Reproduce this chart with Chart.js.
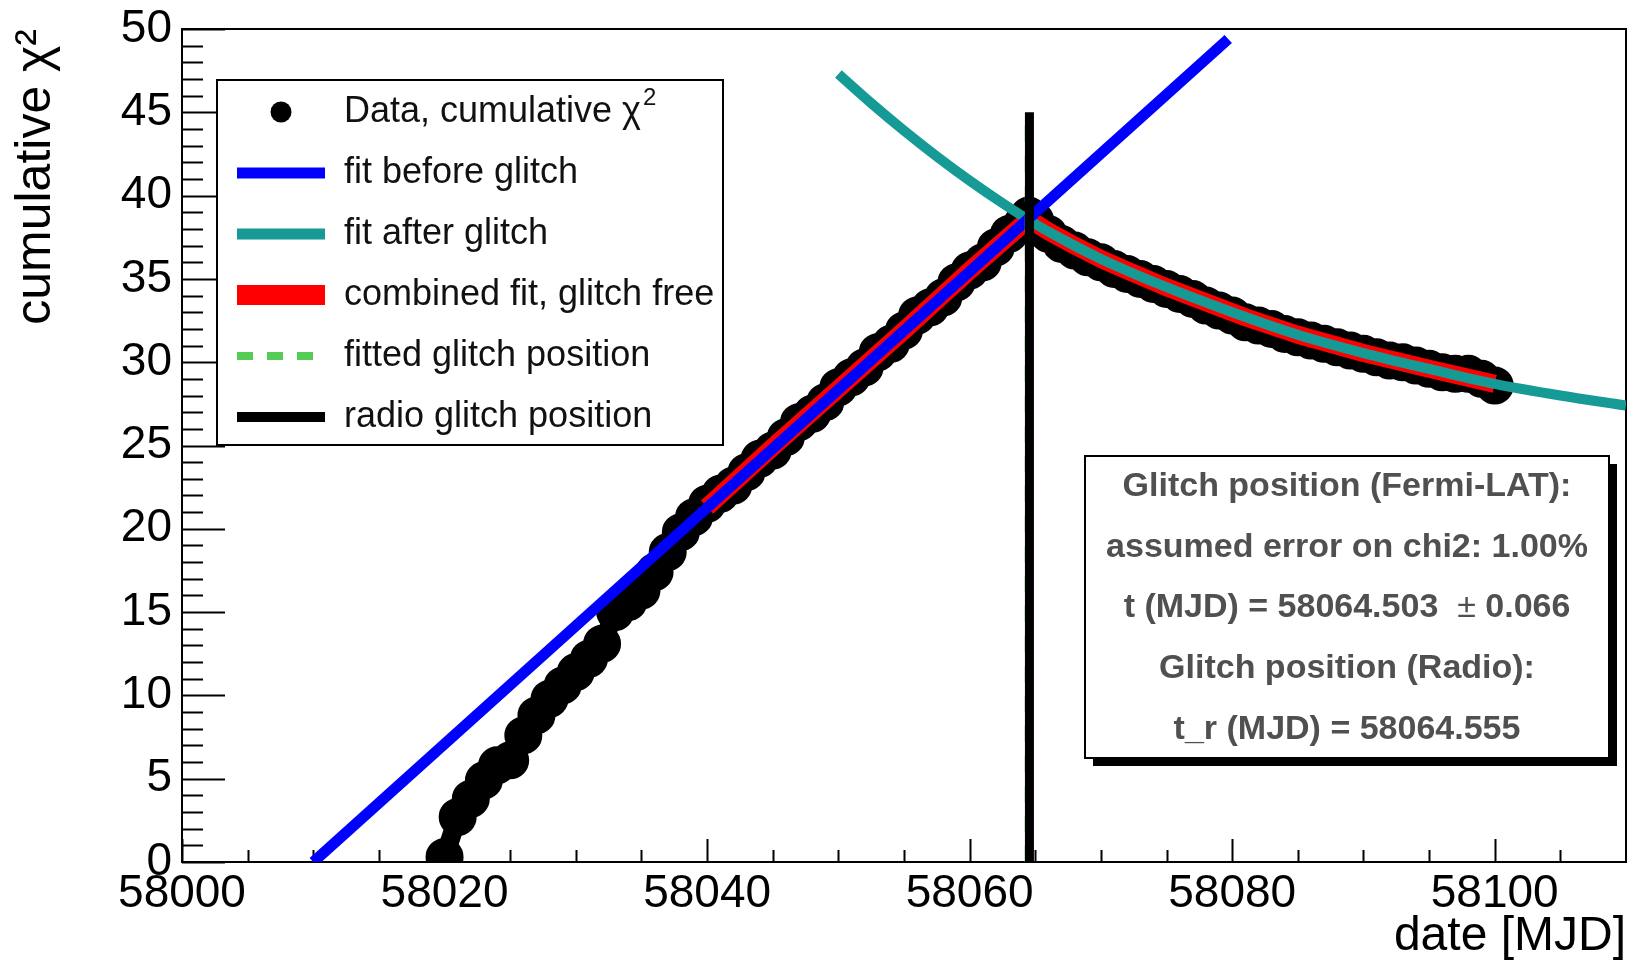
<!DOCTYPE html>
<html>
<head>
<meta charset="utf-8">
<script src="https://cdn.jsdelivr.net/npm/chart.js@4.4.0/dist/chart.umd.min.js"></script>
<style>
  html, body { margin: 0; padding: 0; background: #fff; }
  canvas { display: block; }
</style>
</head>
<body>
<canvas id="c" width="1633" height="966"></canvas>
<script>
const FONT = "'Liberation Sans', Arial, Helvetica, sans-serif";

// cumulative chi2 per day
const dataX = [58020, 58021, 58022, 58023, 58024, 58025, 58026, 58027, 58028, 58029,
  58030, 58031, 58032, 58033, 58034, 58035, 58036, 58037, 58038, 58039,
  58040, 58041, 58042, 58043, 58044, 58045, 58046, 58047, 58048, 58049,
  58050, 58051, 58052, 58053, 58054, 58055, 58056, 58057, 58058, 58059,
  58060, 58061, 58062, 58063, 58064, 58064.5, 58065, 58066, 58067, 58068, 58069,
  58070, 58071, 58072, 58073, 58074, 58075, 58076, 58077, 58078, 58079,
  58080, 58081, 58082, 58083, 58084, 58085, 58086, 58087, 58088, 58089,
  58090, 58091, 58092, 58093, 58094, 58095, 58096, 58097, 58098, 58099, 58100];
const dataY = [0.3, 2.7, 3.8, 4.9, 5.8, 6.1, 7.6, 8.8, 9.8, 10.6,
  11.4, 12.2, 13.1, 15.0, 15.6, 16.3, 17.4, 18.6, 19.8, 20.7,
  21.5, 22.1, 22.6, 23.4, 24.2, 24.7, 25.5, 26.4, 26.9, 27.6,
  28.5, 29.1, 29.7, 30.6, 31.1, 31.9, 32.8, 33.3, 33.9, 34.8,
  35.5, 36.0, 36.9, 37.7, 38.3, 38.8, 38.5, 37.7, 37.1, 36.7, 36.3,
  36.0, 35.6, 35.3, 35.0, 34.7, 34.4, 34.1, 33.8, 33.4, 33.1,
  32.8, 32.4, 32.2, 32.0, 31.7, 31.5, 31.3, 31.1, 30.9, 30.7,
  30.5, 30.3, 30.1, 30.0, 29.8, 29.6, 29.4, 29.3, 29.3, 29.0, 28.6];

// fit before glitch (straight line)
const beforeX = [58010, 58079.7];
const beforeY = [0, 49.4];

// fit after glitch
const afterX = [58050, 58052.5, 58055, 58057.5, 58060, 58062.5, 58065, 58067.5, 58070,
  58075, 58080, 58085, 58090, 58095, 58100, 58105, 58110];
const afterY = [47.3, 45.55, 43.9, 42.35, 40.9, 39.55, 38.3, 37.2, 36.2,
  34.5, 33.0, 31.65, 30.55, 29.6, 28.7, 28.0, 27.4];

// combined fit, glitch free
const combX = [58040, 58045, 58050, 58055, 58060, 58064.5, 58066, 58068, 58070, 58072,
  58075, 58078, 58081, 58085, 58090, 58095, 58100];
const combY = [21.3, 24.9, 28.4, 31.9, 35.5, 38.6, 37.85, 37.0, 36.2, 35.5,
  34.5, 33.6, 32.7, 31.65, 30.55, 29.6, 28.7];

const glitchFit = 58064.503;
const glitchRadio = 58064.555;
const glitchLineY = [0, 45];

const xMajor = [58000, 58020, 58040, 58060, 58080, 58100];
const yMajor = [0, 5, 10, 15, 20, 25, 30, 35, 40, 45, 50];
const xMinorStep = 5;
const yMinorStep = 1;

const statsLines = [
  'Glitch position (Fermi-LAT):',
  'assumed error on chi2: 1.00%',
  ['t (MJD) = 58064.503  ', '\u00b1', ' 0.066'],
  'Glitch position (Radio):',
  't_r (MJD) = 58064.555'
];

const C = {
  data: '#000000', blue: '#0000ff', teal: '#169a96', red: '#ff0000',
  green: '#55cc55', radio: '#000000', statText: '#505050'
};

const pts = (xs, ys) => xs.map((x, i) => ({ x, y: ys[i] }));

const xTickValues = [];
for (let v = 58000; v < 58110; v += xMinorStep) xTickValues.push(v);
const yTickValues = [];
for (let v = 0; v <= 50; v += yMinorStep) yTickValues.push(v);

// ROOT-like frame and inward ticks
const rootAxes = {
  id: 'rootAxes',
  beforeDatasetsDraw(chart) {
    const { ctx, chartArea: a, scales: { x, y } } = chart;
    ctx.save();
    ctx.strokeStyle = '#000';
    ctx.lineWidth = 2;
    ctx.strokeRect(a.left, a.top, a.right - a.left, a.bottom - a.top);
    ctx.beginPath();
    x.ticks.forEach(t => {
      const px = Math.round(x.getPixelForValue(t.value)) + 0.5;
      const len = xMajor.includes(t.value) ? 23 : 12;
      ctx.moveTo(px, a.bottom);
      ctx.lineTo(px, a.bottom - len);
    });
    y.ticks.forEach(t => {
      const py = Math.round(y.getPixelForValue(t.value)) + 0.5;
      const len = yMajor.includes(t.value) ? 43 : 21;
      ctx.moveTo(a.left, py);
      ctx.lineTo(a.left + len, py);
    });
    ctx.stroke();
    ctx.restore();
  }
};

// legend box and fit result box
const boxes = {
  id: 'boxes',
  afterDraw(chart) {
    const ctx = chart.ctx;
    ctx.save();

    // legend
    const L = { x: 217, y: 80, w: 506, h: 365 };
    ctx.fillStyle = '#fff';
    ctx.fillRect(L.x, L.y, L.w, L.h);
    ctx.strokeStyle = '#000';
    ctx.lineWidth = 2;
    ctx.strokeRect(L.x, L.y, L.w, L.h);

    const rows = [112, 173, 234, 295, 356, 417];
    const sx0 = 237, sx1 = 325, tx = 344;
    ctx.fillStyle = C.data;
    ctx.beginPath();
    ctx.arc((sx0 + sx1) / 2, rows[0], 10.5, 0, Math.PI * 2);
    ctx.fill();

    const sym = (row, color, width, dash) => {
      ctx.beginPath();
      ctx.strokeStyle = color;
      ctx.lineWidth = width;
      ctx.setLineDash(dash || []);
      ctx.moveTo(sx0, row);
      ctx.lineTo(sx1, row);
      ctx.stroke();
      ctx.setLineDash([]);
    };
    sym(rows[1], C.blue, 11);
    sym(rows[2], C.teal, 11);
    sym(rows[3], C.red, 20);
    sym(rows[4], C.green, 8, [16, 14]);
    sym(rows[5], C.radio, 10);

    ctx.fillStyle = '#111';
    ctx.textBaseline = 'middle';
    ctx.textAlign = 'left';
    ctx.font = '36px ' + FONT;
    const first = 'Data, cumulative \u03c7';
    ctx.fillText(first, tx, rows[0]);
    const w0 = ctx.measureText(first).width;
    ctx.font = '24px ' + FONT;
    ctx.fillText('2', tx + w0 + 2, rows[0] - 14);
    ctx.font = '36px ' + FONT;
    ['fit before glitch', 'fit after glitch', 'combined fit, glitch free',
     'fitted glitch position', 'radio glitch position'].forEach((t, i) => {
      ctx.fillText(t, tx, rows[i + 1]);
    });

    // fit result box with shadow
    const S = { x: 1085, y: 456, w: 524, h: 302 };
    ctx.fillStyle = '#000';
    ctx.fillRect(S.x + 8, S.y + 8, S.w, S.h);
    ctx.fillStyle = '#fff';
    ctx.fillRect(S.x, S.y, S.w, S.h);
    ctx.strokeStyle = '#000';
    ctx.lineWidth = 2;
    ctx.strokeRect(S.x, S.y, S.w, S.h);

    const cx = S.x + S.w / 2;
    const lineY = [487, 548, 608, 669, 730];
    ctx.fillStyle = C.statText;
    const bold = 'bold 34px ' + FONT;
    const normal = '34px ' + FONT;
    statsLines.forEach((ln, i) => {
      if (Array.isArray(ln)) {
        const fonts = [bold, normal, bold];
        const widths = ln.map((s, k) => { ctx.font = fonts[k]; return ctx.measureText(s).width; });
        let x = cx - widths.reduce((p, q) => p + q, 0) / 2;
        ctx.textAlign = 'left';
        ln.forEach((s, k) => { ctx.font = fonts[k]; ctx.fillText(s, x, lineY[i]); x += widths[k]; });
      } else {
        ctx.font = bold;
        ctx.textAlign = 'center';
        ctx.fillText(ln, cx, lineY[i]);
      }
    });
    ctx.restore();
  }
};

const lineDs = (label, data, color, width, order, extra) => Object.assign({
  label, data, showLine: true, borderColor: color, backgroundColor: color,
  borderWidth: width, pointRadius: 0, pointHoverRadius: 0, tension: 0,
  clip: 0, order
}, extra || {});

new Chart(document.getElementById('c'), {
  type: 'scatter',
  data: {
    datasets: [
      lineDs('radio glitch position', pts([glitchRadio, glitchRadio], glitchLineY), C.radio, 9, 1),
      lineDs('fitted glitch position', pts([glitchFit, glitchFit], glitchLineY), C.green, 8, 2,
        { borderDash: [16, 14] }),
      lineDs('fit before glitch', pts(beforeX, beforeY), C.blue, 11, 3),
      lineDs('fit after glitch', pts(afterX, afterY), C.teal, 10, 4,
        { cubicInterpolationMode: 'monotone' }),
      lineDs('combined fit, glitch free', pts(combX, combY), C.red, 18, 5,
        { borderJoinStyle: 'round' }),
      lineDs('Data, cumulative chi2', pts(dataX, dataY), C.data, 19, 6,
        { pointRadius: 9.5, borderJoinStyle: 'round', borderCapStyle: 'round' })
    ]
  },
  options: {
    responsive: false,
    animation: false,
    events: [],
    layout: { autoPadding: false, padding: { top: 29, right: 7, bottom: 0, left: 0 } },
    plugins: { legend: { display: false }, tooltip: { enabled: false } },
    scales: {
      x: {
        type: 'linear', min: 58000, max: 58110,
        afterBuildTicks: s => { s.ticks = xTickValues.map(v => ({ value: v })); },
        afterFit: s => { s.height = 104; s.paddingLeft = 0; s.paddingRight = 0; },
        grid: { display: false, drawTicks: false },
        border: { display: false },
        ticks: {
          autoSkip: false, maxRotation: 0, minRotation: 0, padding: 5, color: '#000',
          font: { size: 46, family: FONT },
          callback: v => xMajor.includes(v) ? String(v) : ''
        },
        title: {
          display: true, text: 'date [MJD]', align: 'end', color: '#000',
          font: { size: 48, family: FONT }, padding: { top: 0, bottom: 0 }
        }
      },
      y: {
        type: 'linear', min: 0, max: 50,
        afterBuildTicks: s => { s.ticks = yTickValues.map(v => ({ value: v })); },
        afterFit: s => { s.width = 182; s.paddingTop = 0; s.paddingBottom = 0; },
        grid: { display: false, drawTicks: false },
        border: { display: false },
        ticks: {
          autoSkip: false, padding: 10, color: '#000',
          font: { size: 46, family: FONT },
          callback: v => yMajor.includes(v) ? String(v) : ''
        },
        title: {
          display: true, text: 'cumulative \u03c7\u00b2', align: 'end', color: '#000',
          font: { size: 50, family: FONT }, padding: { top: 6, bottom: 0 }
        }
      }
    }
  },
  plugins: [rootAxes, boxes]
});
</script>
</body>
</html>
